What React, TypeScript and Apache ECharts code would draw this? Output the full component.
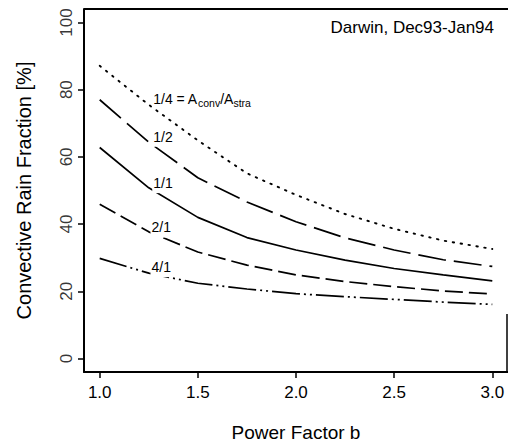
import React, { useEffect, useRef } from "react";
import * as echarts from "echarts";

const powerFactor = [1, 1.25, 1.5, 1.75, 2, 2.25, 2.5, 2.75, 3];
const ratioQuarter = [87.1, 75.5, 64.9, 55.1, 48.7, 43.0, 38.6, 35.1, 32.6];
const ratioHalf = [77.0, 64.4, 53.8, 46.6, 40.7, 35.9, 32.3, 29.4, 27.4];
const ratioOne = [62.8, 50.8, 42.0, 36.0, 32.3, 29.3, 26.8, 24.9, 23.1];
const ratioTwo = [45.9, 37.7, 31.7, 27.8, 24.9, 22.9, 21.4, 20.1, 19.2];
const ratioFour = [29.8, 25.4, 22.4, 20.7, 19.3, 18.4, 17.6, 16.8, 16.1];

const xTicks = [1, 1.5, 2, 2.5, 3];
const yTicks = [0, 20, 40, 60, 80, 100];

const curveLabels = [
  "1/4 = A{sub|conv}/A{sub|stra}",
  "1/2",
  "1/1",
  "2/1",
  "4/1",
];
const labelX = [1.265, 1.265, 1.265, 1.256, 1.256];
const labelY = [77.2, 66, 52.2, 39, 27.2];

const X_MIN = 0.92;
const X_MAX = 3.08;
const Y_MIN = -4;
const Y_MAX = 104;

const FONT = "'Liberation Sans', Arial, Helvetica, sans-serif";

export default function App() {
  const ref = useRef<HTMLDivElement>(null);

  useEffect(() => {
    const chart = echarts.init(ref.current!, null, { renderer: "svg" });
    const seriesValues = [ratioQuarter, ratioHalf, ratioOne, ratioTwo, ratioFour];
    const dashes: any[] = [
      [1.5, 6.5],
      [28, 8],
      "solid",
      [18, 6],
      [28, 4, 2, 4, 2, 4],
    ];
    const series: any[] = seriesValues.map((vals, k) => ({
      type: "line",
      name: curveLabels[k],
      data: powerFactor.map((x, i) => [x, vals[i]]),
      symbol: "none",
      silent: true,
      lineStyle: {
        color: "#000",
        width: k === 0 ? 1.9 : 1.7,
        type: dashes[k],
        cap: k === 0 ? "round" : "butt",
      },
      markPoint: {
        symbol: "circle",
        symbolSize: 1,
        itemStyle: { color: "rgba(0,0,0,0)" },
        silent: true,
        data: [{ coord: [labelX[k], labelY[k]] }],
        label: {
          show: true,
          position: "right",
          distance: 0,
          formatter: curveLabels[k],
          color: "#000",
          fontFamily: FONT,
          fontSize: 14,
          backgroundColor: "#fff",
          padding: [1, 1, 1, 1],
          lineHeight: 18,
          rich: {
            sub: {
              fontFamily: FONT,
              fontSize: 10.5,
              color: "#000",
              verticalAlign: "bottom",
              lineHeight: 18,
            },
          },
        },
      },
    }));

    const option: any = {
      animation: false,
      backgroundColor: "#fff",
      title: {
        text: "Darwin, Dec93-Jan94",
        right: 9,
        top: 14,
        textStyle: {
          fontFamily: FONT,
          fontSize: 17,
          fontWeight: "normal",
          color: "#000",
        },
      },
      grid: { left: 84, right: 0, top: 9, bottom: 71, show: false },
      xAxis: {
        type: "value",
        min: X_MIN,
        max: X_MAX,
        name: "Power Factor b",
        nameLocation: "middle",
        nameGap: 51,
        nameTextStyle: { fontFamily: FONT, fontSize: 19, color: "#000" },
        axisLine: { show: true, onZero: false, lineStyle: { color: "#000", width: 2 } },
        axisTick: {
          show: true,
          length: 6,
          customValues: xTicks,
          lineStyle: { color: "#000", width: 1.5 },
        },
        axisLabel: {
          customValues: xTicks,
          margin: 12,
          fontFamily: FONT,
          fontSize: 17,
          color: "#000",
          formatter: (v: number) => v.toFixed(1),
        },
        splitLine: { show: false },
      },
      yAxis: {
        type: "value",
        min: Y_MIN,
        max: Y_MAX,
        name: "Convective Rain Fraction [%]",
        nameLocation: "middle",
        nameGap: 50,
        nameRotate: 90,
        nameTextStyle: { fontFamily: FONT, fontSize: 20, color: "#000" },
        axisLine: { show: true, onZero: false, lineStyle: { color: "#000", width: 2 } },
        axisTick: {
          show: true,
          length: 6,
          customValues: yTicks,
          lineStyle: { color: "#000", width: 1.5 },
        },
        axisLabel: { show: false },
        splitLine: { show: false },
      },
      series,
    };
    chart.setOption(option);

    const axisX = chart.convertToPixel({ xAxisIndex: 0 }, X_MIN) as number;
    const topY = chart.convertToPixel({ yAxisIndex: 0 }, Y_MAX) as number;
    const bottomY = chart.convertToPixel({ yAxisIndex: 0 }, Y_MIN) as number;
    const rightX = chart.convertToPixel({ xAxisIndex: 0 }, X_MAX) as number;
    // x position (in data units) of the tick-label column, 17.5px left of the axis line
    const tickLabelX = chart.convertFromPixel({ xAxisIndex: 0 }, axisX - 17.5) as number;

    series.push({
      type: "scatter",
      name: "yTickLabels",
      data: yTicks.map((t) => [tickLabelX, t]),
      symbol: "circle",
      symbolSize: 1,
      itemStyle: { color: "rgba(0,0,0,0)" },
      silent: true,
      clip: false,
      z: 10,
      label: {
        show: true,
        position: "left",
        distance: 0,
        rotate: 90,
        align: "center",
        verticalAlign: "middle",
        formatter: (p: any) => String(p.value[1]),
        fontFamily: FONT,
        fontSize: 17,
        color: "#000",
      },
      labelLayout: { hideOverlap: false },
    });

    chart.setOption({
      series,
      graphic: [
        {
          type: "line",
          shape: { x1: axisX, y1: topY, x2: rightX, y2: topY },
          style: { stroke: "#000", lineWidth: 2 },
          silent: true,
        },
        {
          type: "line",
          shape: { x1: rightX - 1, y1: 314, x2: rightX - 1, y2: bottomY },
          style: { stroke: "#000", lineWidth: 1.5 },
          silent: true,
        },
      ],
    });

    return () => chart.dispose();
  }, []);

  return (
    <div
      ref={ref}
      style={{ position: "absolute", left: 0, top: 0, width: 508, height: 447, background: "#fff" }}
    />
  );
}
